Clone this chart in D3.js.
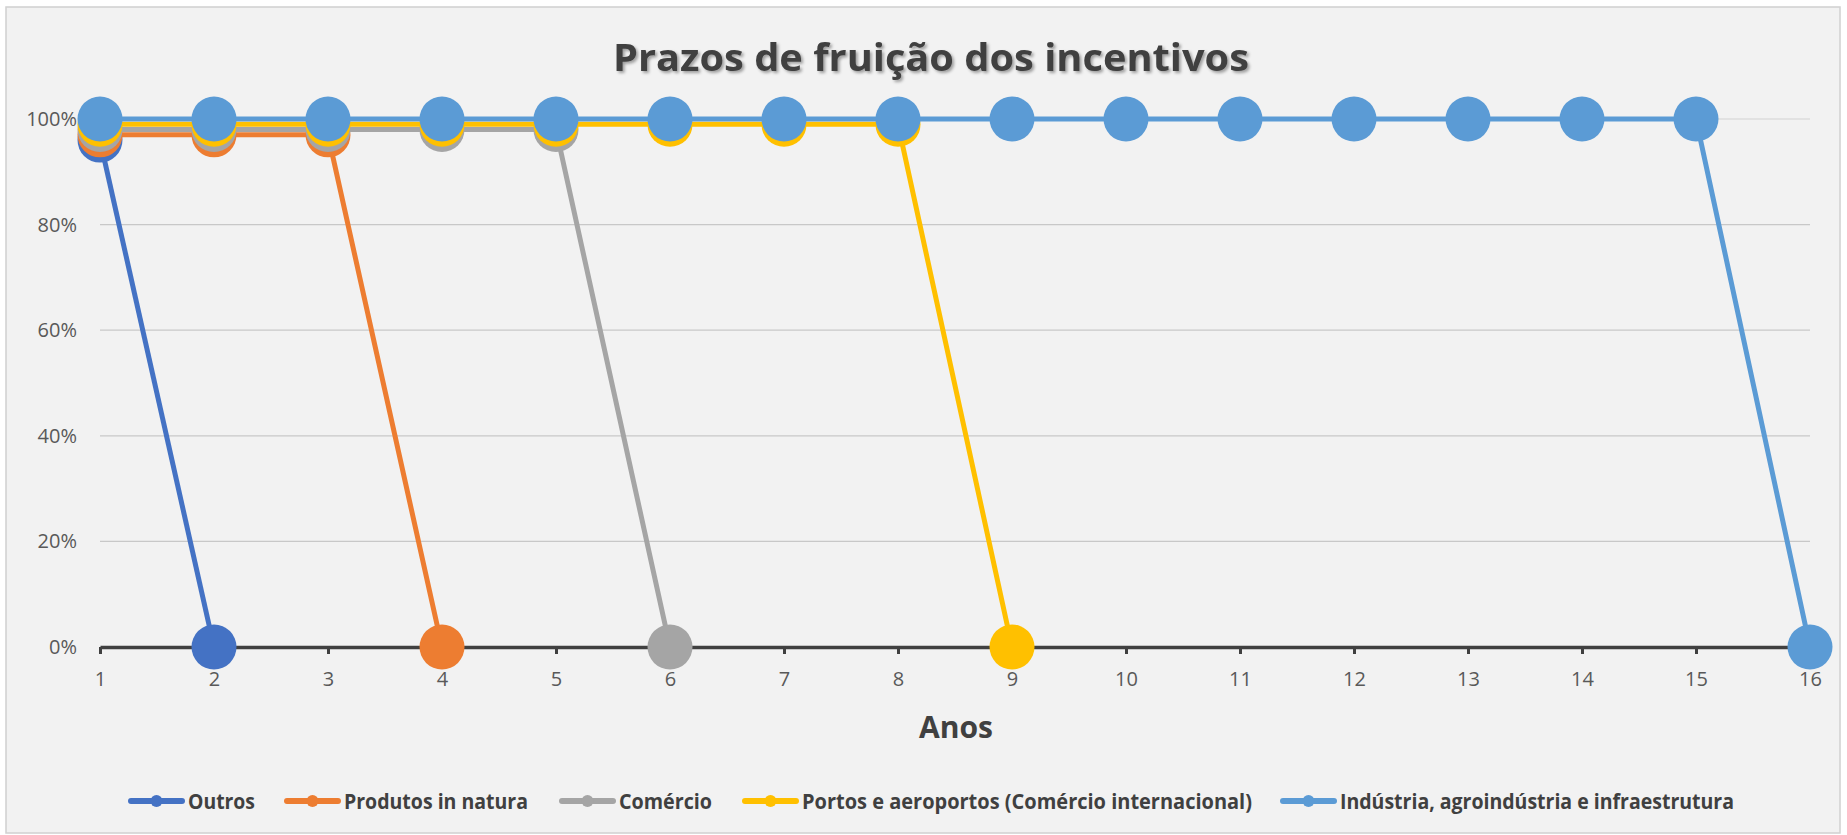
<!DOCTYPE html>
<html>
<head>
<meta charset="utf-8">
<script src="https://cdn.jsdelivr.net/npm/d3@7"></script>
<style>
  body { margin: 0; background: #ffffff; }
  text { font-family: "Open Sans", "Noto Sans", sans-serif; }
</style>
</head>
<body>
<div id="chart"></div>
<script>
// Data
var years = [1, 2, 3, 4, 5, 6, 7, 8, 9, 10, 11, 12, 13, 14, 15, 16];
var yTicks = [0, 0.2, 0.4, 0.6, 0.8, 1];

var seriesNames = ["Outros", "Produtos in natura", "Comércio",
  "Portos e aeroportos (Comércio internacional)",
  "Indústria, agroindústria e infraestrutura"];
var seriesColors = ["#4472C4", "#ED7D31", "#A5A5A5", "#FFC000", "#5B9BD5"];

var outros = [0.96, 0];
var produtos = [0.97, 0.97, 0.97, 0];
var comercio = [0.98, 0.98, 0.98, 0.98, 0.98, 0];
var portos = [0.99, 0.99, 0.99, 0.99, 0.99, 0.99, 0.99, 0.99, 0];
var industria = [1, 1, 1, 1, 1, 1, 1, 1, 1, 1, 1, 1, 1, 1, 1, 0];

var seriesValues = [outros, produtos, comercio, portos, industria];

// legend text widths / positions measured on the reference
var legendX = [128, 284, 559, 742, 1280];
var legendTextW = [67, 184, 93, 450, 394];

var svgWidth = 1847;
var svgHeight = 835;

var svg = d3.select("#chart")
  .append("svg")
  .attr("width", svgWidth)
  .attr("height", svgHeight);

var defs = svg.append("defs");
var shadow = defs.append("filter")
  .attr("id", "shadow")
  .attr("x", "-10%").attr("y", "-30%")
  .attr("width", "120%").attr("height", "160%");
shadow.append("feDropShadow")
  .attr("dx", 2).attr("dy", 2)
  .attr("stdDeviation", 1.5)
  .attr("flood-color", "#000")
  .attr("flood-opacity", 0.35);

// chart area background + border
svg.append("rect")
  .attr("x", 6).attr("y", 7)
  .attr("width", 1834).attr("height", 826)
  .attr("fill", "#F2F2F2")
  .attr("stroke", "#D0D0D0")
  .attr("stroke-width", 1.5);

var x = d3.scaleLinear().domain([1, 16]).range([100, 1810]);
var y = d3.scaleLinear().domain([0, 1]).range([647, 119]);

// gridlines
svg.append("g")
  .selectAll("line")
  .data(yTicks.filter(d => d > 0))
  .enter()
  .append("line")
  .attr("x1", x(1)).attr("x2", x(16))
  .attr("y1", d => y(d)).attr("y2", d => y(d))
  .attr("stroke", d => d === 1 ? "#DDDDDD" : "#C8C8C8")
  .attr("stroke-width", 1.3);

// y axis labels
var leftAxis = d3.axisLeft(y)
  .tickValues(yTicks)
  .tickFormat(d3.format(".0%"))
  .tickSize(0)
  .tickPadding(0);

var gy = svg.append("g")
  .attr("transform", "translate(77,0)")
  .call(leftAxis);
gy.select(".domain").remove();
gy.selectAll("text")
  .attr("fill", "#595959")
  .style("font-size", "20px")
  .style("font-family", "'Open Sans', sans-serif");

// x axis
var bottomAxis = d3.axisBottom(x)
  .tickValues(years)
  .tickFormat(d3.format("d"))
  .tickSize(7)
  .tickSizeOuter(0)
  .tickPadding(18);

var gx = svg.append("g")
  .attr("transform", `translate(0, ${y(0)})`)
  .call(bottomAxis);
gx.select(".domain")
  .attr("stroke", "#404040")
  .attr("stroke-width", 3.5);
gx.selectAll(".tick line")
  .attr("stroke", "#404040")
  .attr("stroke-width", 3);
gx.selectAll("text")
  .attr("fill", "#595959")
  .style("font-size", "20px")
  .style("font-family", "'Open Sans', sans-serif");

// series: line then markers, series by series
var line = d3.line()
  .x((d, i) => x(years[i]))
  .y(d => y(d));

seriesValues.forEach(function(vals, s) {
  var g = svg.append("g");
  g.append("path")
    .datum(vals)
    .attr("d", line)
    .attr("fill", "none")
    .attr("stroke", seriesColors[s])
    .attr("stroke-width", 5)
    .attr("stroke-linejoin", "round");
  g.selectAll("circle")
    .data(vals)
    .enter()
    .append("circle")
    .attr("cx", (d, i) => x(years[i]))
    .attr("cy", d => y(d))
    .attr("r", 22.5)
    .attr("fill", seriesColors[s]);
});

// title
svg.append("text")
  .attr("x", 931)
  .attr("y", 71)
  .attr("text-anchor", "middle")
  .attr("fill", "#404040")
  .attr("filter", "url(#shadow)")
  .attr("textLength", 636)
  .attr("lengthAdjust", "spacingAndGlyphs")
  .style("font-size", "37px")
  .style("font-weight", "bold")
  .text("Prazos de fruição dos incentivos");

// x axis title
svg.append("text")
  .attr("x", 956)
  .attr("y", 738)
  .attr("text-anchor", "middle")
  .attr("fill", "#404040")
  .attr("textLength", 74)
  .attr("lengthAdjust", "spacingAndGlyphs")
  .style("font-size", "31px")
  .style("font-weight", "bold")
  .text("Anos");

// legend
var legend = svg.append("g");
seriesNames.forEach(function(name, s) {
  var lx = legendX[s];
  legend.append("line")
    .attr("x1", lx + 3).attr("x2", lx + 54)
    .attr("y1", 801).attr("y2", 801)
    .attr("stroke", seriesColors[s])
    .attr("stroke-width", 6)
    .attr("stroke-linecap", "round");
  legend.append("circle")
    .attr("cx", lx + 28.5).attr("cy", 801)
    .attr("r", 6)
    .attr("fill", seriesColors[s]);
  legend.append("text")
    .attr("x", lx + 60)
    .attr("y", 809)
    .attr("fill", "#404040")
    .attr("textLength", legendTextW[s])
    .attr("lengthAdjust", "spacingAndGlyphs")
    .style("font-size", "22px")
    .style("font-weight", "bold")
    .text(name);
});
</script>
</body>
</html>
